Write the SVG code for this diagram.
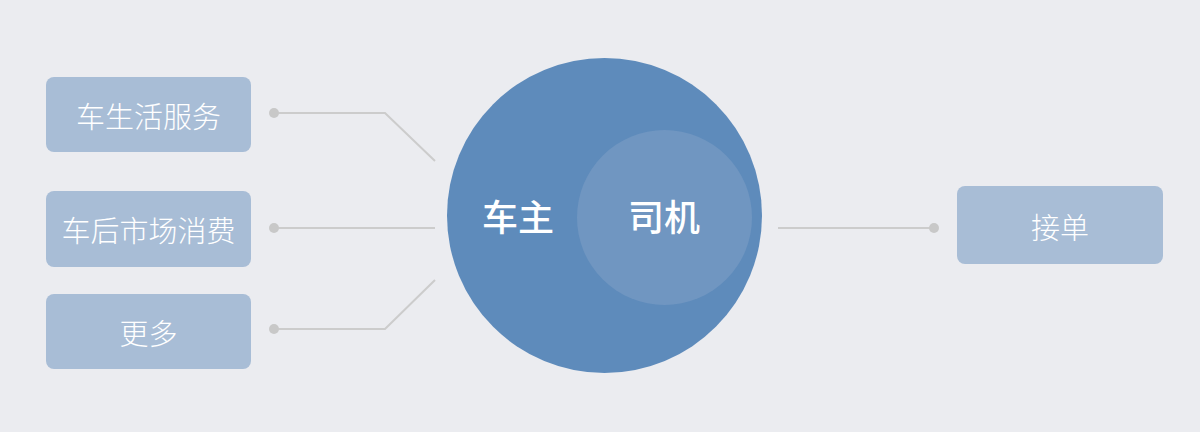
<svg xmlns="http://www.w3.org/2000/svg" width="1200" height="432" viewBox="0 0 1200 432">
  <style>
    .box { fill: #A8BDD6; }
    .lbl { font-family: "Noto Sans CJK SC", "Noto Sans", sans-serif; font-size: 29px; font-weight: 300; fill: #FFFFFF; text-anchor: middle; dominant-baseline: central; }
    .big { font-family: "Noto Sans CJK SC", "Noto Sans", sans-serif; font-size: 36px; font-weight: 500; fill: #FFFFFF; text-anchor: middle; dominant-baseline: central; }
    .conn { fill: none; stroke: #CCCCCC; stroke-width: 2; }
    .dot { fill: #C8C8C8; }
  </style>
  <rect x="0" y="0" width="1200" height="432" fill="#EBECF0"/>
  <g id="connectors">
    <polyline class="conn" points="274,113 385,113 435,161"/>
    <circle class="dot" cx="274" cy="113" r="5"/>
    <polyline class="conn" points="274,228 435,228"/>
    <circle class="dot" cx="274" cy="228" r="5"/>
    <polyline class="conn" points="274,329 385,329 435,280"/>
    <circle class="dot" cx="274" cy="329" r="5"/>
    <polyline class="conn" points="778,228 934,228"/>
    <circle class="dot" cx="934" cy="228" r="5"/>
  </g>
  <g id="node-car-life">
    <rect class="box" x="46" y="77" width="205" height="75" rx="8"/>
    <text class="lbl" x="148.5" y="114.5">车生活服务</text>
  </g>
  <g id="node-aftermarket">
    <rect class="box" x="46" y="191" width="205" height="76" rx="8"/>
    <text class="lbl" x="148.5" y="229">车后市场消费</text>
  </g>
  <g id="node-more">
    <rect class="box" x="46" y="294" width="205" height="75" rx="8"/>
    <text class="lbl" x="148.5" y="331.5">更多</text>
  </g>
  <g id="node-owner">
    <circle cx="604.5" cy="215.5" r="157.5" fill="#5E8BBB"/>
    <text class="big" x="518" y="215">车主</text>
  </g>
  <g id="node-driver">
    <circle cx="664.5" cy="217.5" r="87.5" fill="#7096C1"/>
    <text class="big" x="664" y="215">司机</text>
  </g>
  <g id="node-order">
    <rect class="box" x="957" y="186" width="206" height="78" rx="8"/>
    <text class="lbl" x="1060" y="226">接单</text>
  </g>
</svg>
